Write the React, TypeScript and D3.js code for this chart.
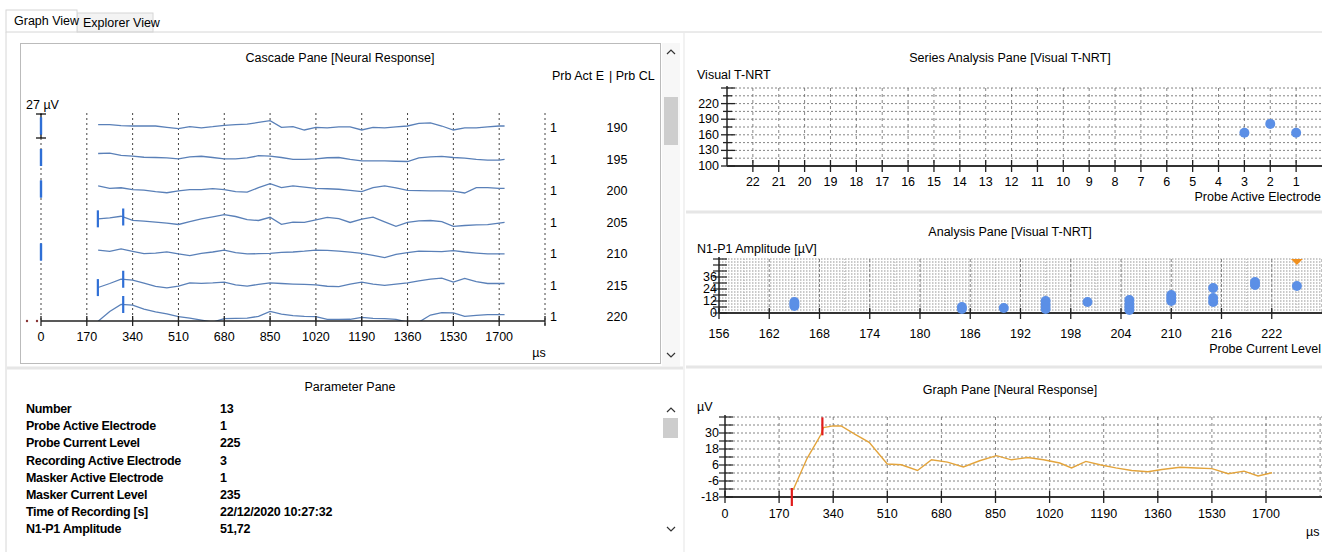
import React from "react";
import * as d3 from "d3";

const W = 1322;
const H = 552;
const FONT = "'Liberation Sans', Arial, sans-serif";

// ---- cascade pane data ----
const CASCADE_CL = [190, 195, 200, 205, 210, 215, 220];
const CASCADE_ELECTRODE = [1, 1, 1, 1, 1, 1, 1];
const CASCADE_TICKS = [0, 170, 340, 510, 680, 850, 1020, 1190, 1360, 1530, 1700];
const CASCADE_TIMES = [212, 255, 297, 340, 382, 425, 467, 510, 552, 595, 637, 680, 722, 765, 807, 850, 892, 935, 977, 1020, 1062, 1105, 1147, 1190, 1232, 1275, 1317, 1360, 1402, 1445, 1487, 1530, 1572, 1615, 1657, 1700, 1720];
const TRACE_190 = [1.5, 1.6, 0.5, 0, 0, 0, -1.5, -3, -0.7, -2, -0.8, 0.8, 1.5, 2.2, 4, 6, -1.5, -0.7, -4.5, -1.5, -2, -1, -1, -4.5, -1.5, -2.2, -1, 0, 3, 3.5, 0, -4.5, -2.2, -2.2, -1, 0, 0];
const TRACE_195 = [4.5, 5, 2.5, 1.5, 0.3, 0, -0.5, -1.5, 0.7, 1.4, 0, -1.5, -1.5, -0.5, 2, 1.5, 0, -2, -2, -1.5, -0.3, 0, -2.2, -3.7, -3.7, -3.9, -4.2, -4.5, -0.5, 0.8, 1.3, 0, -0.6, -2.2, -3, -3, -2.2];
const TRACE_200 = [3.4, 0.7, 1.4, -0.6, -1.3, -3, -4.2, -2.2, -0.7, -0.7, 0.4, -0.7, -3, -3.5, 1.5, 6, 1.5, 3.5, 2.2, 0.7, 0.3, -0.3, -1.5, -3, 1.5, 3.5, 1.2, -1.5, -1.9, -2.2, -2.2, -2.4, -4.5, 1.5, 1.5, 0.7, 0.7];
const TRACE_205 = [1.9, 3, 4.8, 0.2, -0.8, -1.8, -3, -4.5, -1.2, 1.8, 4.2, 6.7, 4.5, 1, 0, 3.6, -4.4, -1.8, -2, 0.8, 3.5, 2, -2.2, 1.5, 3.7, -1.5, -6.6, -2.2, -0.5, 0, -1.2, -6.6, -5.6, -5, -4.6, -3, -2.2];
const TRACE_210 = [2.2, 0.7, 3.4, 0.8, -1.8, -1.3, 0.2, -2.2, -4, -1.6, 0, 2.2, -0.6, -2.2, -1.9, -1.5, -0.5, 0, 0.9, 2.2, 1.9, 1, -0.2, -1.5, -3.7, -6.4, -2.7, -0.7, 1, 0.8, 0.4, 1.5, 0, -1.2, -2.1, -2.2, -2.2];
const TRACE_215 = [-4.5, 0, 5, 3.8, 0.5, -3.2, -5, -3, 0.7, 0.1, 0.6, 1.5, -1.5, -3, -1, 0.7, 0, -0.6, -1, -1.5, -3.1, -3.6, -0.8, 1.5, -0.7, -2.1, -0.6, 0.8, 3, 5, 6, 1.5, 5.8, 2, 0, 0, 0];
const TRACE_220 = [-7, 4, 12, 11, 6.5, 3.5, 1.3, -1.9, -3.4, -5.8, -8, -4.1, -3.8, -3.6, -1.5, 4, 1.1, -0.7, -1.5, -1.9, -4.9, -4.9, -4.8, -2.6, -3.8, -4.1, -5, -8, -8, 0, 2.6, 2.4, -1.6, -0.5, 0.4, 0.4, 0.4];
const CASCADE_TRACES = [TRACE_190, TRACE_195, TRACE_200, TRACE_205, TRACE_210, TRACE_215, TRACE_220];
const CASCADE_N1 = [0, 0, 0, 211, 0, 211, null];
const CASCADE_P1 = [0, 0, 0, 305, 0, 305, 305];
const SCALE_BAR_UV = 27;

// ---- series analysis pane ----
const ELECTRODES = [22, 21, 20, 19, 18, 17, 16, 15, 14, 13, 12, 11, 10, 9, 8, 7, 6, 5, 4, 3, 2, 1];
const SERIES_ELECTRODE = [3, 2, 1];
const SERIES_TNRT = [164, 181, 164];
const SERIES_Y_TICKS = [100, 130, 160, 190, 220];

// ---- analysis pane ----
const ANALYSIS_X_TICKS = [156, 162, 168, 174, 180, 186, 192, 198, 204, 210, 216, 222];
const ANALYSIS_Y_TICKS = [0, 12, 24, 36];
const ANALYSIS_CL = [165, 165, 165, 185, 185, 190, 195, 195, 195, 200, 205, 205, 205, 205, 210, 210, 210, 215, 215, 215, 220, 220, 225];
const ANALYSIS_AMP = [7, 9, 11, 4, 6, 5, 4, 8, 12, 11, 3, 6, 9, 13, 12, 15, 18, 11, 15, 25, 28, 31, 27];
const ANALYSIS_OVER = [225];

// ---- graph pane ----
const GRAPH_TICKS = [0, 170, 340, 510, 680, 850, 1020, 1190, 1360, 1530, 1700];
const GRAPH_Y_TICKS = [30, 18, 6, -6, -18];
const GRAPH_TIMES = [214, 258, 302, 309, 340, 365, 409, 453, 510, 554, 605, 649, 699, 749, 800, 853, 900, 951, 1001, 1052, 1089, 1134, 1178, 1228, 1278, 1329, 1373, 1430, 1480, 1530, 1581, 1631, 1675, 1719];
const GRAPH_UV = [-12.7, 11, 29, 34, 35.3, 35.3, 29, 23, 6.7, 6.2, 1.9, 9.9, 8.2, 4.5, 9.2, 13, 9.9, 11.6, 9.9, 7.5, 3.8, 8.7, 6.2, 3.8, 1.9, 0.9, 2.6, 4.3, 3.8, 3.3, -0.5, 1.4, -2.2, 0.2];
const GRAPH_MARK_T = [210, 306];
const GRAPH_MARK_V = [-18, 35];

// ---- parameter pane ----
const PARAM_NAMES = ["Number", "Probe Active Electrode", "Probe Current Level", "Recording Active Electrode", "Masker Active Electrode", "Masker Current Level", "Time of Recording [s]", "N1-P1 Amplitude"];
const PARAM_VALUES = ["13", "1", "225", "3", "1", "235", "22/12/2020 10:27:32", "51,72"];

const GRID = "#666";
const TRACE = "#5a80b8";
const MARK = "#2f6fd6";
const DOT = "#5b8fe6";

const Chevron = ({ x, y, up }: { x: number; y: number; up: boolean }) => (
  <polyline
    points={up ? `${x - 4},${y + 2} ${x},${y - 2} ${x + 4},${y + 2}` : `${x - 4},${y - 2} ${x},${y + 2} ${x + 4},${y - 2}`}
    fill="none" stroke="#333" strokeWidth={1.2} />
);

export default function App() {
  // cascade scales
  const cx = d3.scaleLinear().domain([0, 1870]).range([41, 545]);
  const cBase = d3.scalePoint<number>().domain(CASCADE_CL).range([126, 315]);
  const uv = d3.scaleLinear().domain([0, SCALE_BAR_UV]).range([0, 24]);
  const cascadeAt = (vals: number[], t: number) =>
    t === 0 ? 0 : d3.scaleLinear().domain(CASCADE_TIMES).range(vals)(t);

  // series
  const sx = d3.scaleLinear().domain([23, 0]).range([727, 1322]);
  const sy = d3.scaleLinear().domain([100, 250]).range([166, 88]);

  // analysis
  const ax = d3.scaleLinear().domain([156, 228]).range([719, 1322]);
  const ay = d3.scaleLinear().domain([0, 54]).range([313, 259]);

  // graph
  const gx = d3.scaleLinear().domain([0, 1700]).range([725, 1266]);
  const gy = d3.scaleLinear().domain([-18, 42]).range([497, 417]);
  const graphLine = d3.line<number>().x((_, i) => gx(GRAPH_TIMES[i])).y(v => gy(v));

  const txt = { fontFamily: FONT, fontSize: 12.5, fill: "#000" } as const;

  return (
    <svg width={W} height={H} style={{ position: "absolute", left: 0, top: 0, background: "#fff" }}>
      <defs>
        <clipPath id="cascadeClip">
          <rect x={20} y={90} width={640} height={231} />
        </clipPath>
      </defs>

      {/* tabs & frame */}
      <rect x={77} y={13} width={76} height={19} fill="#f3f3f3" stroke="#d6d6d6" />
      <rect x={6} y={10} width={71} height={22} fill="#fff" stroke="#d6d6d6" />
      <line x1={6} y1={32} x2={6} y2={H} stroke="#d6d6d6" />
      <line x1={77} y1={32} x2={W} y2={32} stroke="#d6d6d6" />
      <text x={14} y={25} style={txt} fontSize={11}>Graph View</text>
      <text x={83} y={27} style={txt} fontSize={11}>Explorer View</text>

      {/* pane separators */}
      <line x1={7} y1={368} x2={684} y2={368} stroke="#e6e6e6" strokeWidth={3} />
      <line x1={684} y1={33} x2={684} y2={H} stroke="#f2f2f2" strokeWidth={2} />
      <line x1={686} y1={212} x2={W} y2={212} stroke="#e6e6e6" strokeWidth={3} />
      <line x1={686} y1={367} x2={W} y2={367} stroke="#e6e6e6" strokeWidth={3} />

      {/* ===== cascade pane ===== */}
      <rect x={20.5} y={43.5} width={640} height={320} fill="none" stroke="#777" strokeDasharray="1,1" />
      <rect x={662} y={43} width={18} height={323} fill="#f7f7f7" />
      <rect x={664} y={97} width={14} height={48} fill="#cdcdcd" />
      <Chevron x={671} y={52} up={true} />
      <Chevron x={671} y={355} up={false} />
      <text x={340} y={62} textAnchor="middle" style={txt}>Cascade Pane [Neural Response]</text>
      <text x={552} y={80} style={txt}>Prb Act E</text>
      <text x={609} y={80} style={txt}>| Prb CL</text>

      {/* vertical dotted gridlines */}
      {[...CASCADE_TICKS, 1870].map(t => (
        <line key={t} x1={cx(t)} x2={cx(t)} y1={113} y2={t === 1870 ? 325 : 321}
          stroke="#444" strokeDasharray="2,3" />
      ))}

      {/* scale bar */}
      <text x={26} y={109} style={txt}>27 µV</text>
      <line x1={cx(0)} x2={cx(0)} y1={114} y2={114 + uv(SCALE_BAR_UV)} stroke="#000" strokeWidth={1.2} />
      <line x1={cx(0) - 5} x2={cx(0) + 5} y1={114} y2={114} stroke="#000" strokeWidth={1.2} />
      <line x1={cx(0) - 5} x2={cx(0) + 5} y1={114 + uv(SCALE_BAR_UV)} y2={114 + uv(SCALE_BAR_UV)} stroke="#000" strokeWidth={1.2} />

      {/* traces */}
      <g clipPath="url(#cascadeClip)">
        {CASCADE_TRACES.map((vals, i) => {
          const base = cBase(CASCADE_CL[i]) as number;
          const line = d3.line<number>().x((_, j) => cx(CASCADE_TIMES[j])).y(v => base - uv(v));
          return <path key={i} d={line(vals) || ""} fill="none" stroke={TRACE} strokeWidth={1.3} />;
        })}
      </g>

      {/* markers */}
      {CASCADE_TRACES.map((vals, i) => {
        const base = cBase(CASCADE_CL[i]) as number;
        const marks = [CASCADE_N1[i], CASCADE_P1[i]].filter(m => m !== null) as number[];
        return marks.map((t, k) => {
          const y = base - uv(cascadeAt(vals, t));
          return <line key={`${i}-${k}`} x1={cx(t)} x2={cx(t)} y1={y - 8.5} y2={y + 8.5}
            stroke={MARK} strokeWidth={2.2} />;
        });
      })}

      {/* cascade axis */}
      <line x1={cx(0)} x2={cx(1870)} y1={321} y2={321} stroke="#222" strokeWidth={1.5} />
      <circle cx={27} cy={321} r={1.2} fill="#833" />
      <circle cx={37} cy={321} r={1.2} fill="#833" />
      {[...CASCADE_TICKS, 1870].map(t => (
        <line key={t} x1={cx(t)} x2={cx(t)} y1={316} y2={326} stroke="#222" strokeWidth={1.3} />
      ))}
      {CASCADE_TICKS.map(t => (
        <text key={t} x={cx(t)} y={341} textAnchor="middle" style={txt}>{t}</text>
      ))}
      <text x={539} y={357} textAnchor="middle" style={txt} fontSize={11}>µs</text>

      {/* right labels */}
      {CASCADE_CL.map((cl, i) => {
        const y = (cBase(cl) as number) + 6;
        return (
          <g key={cl}>
            <text x={550} y={y} style={txt}>{CASCADE_ELECTRODE[i]}</text>
            <text x={617} y={y} textAnchor="middle" style={txt}>{cl}</text>
          </g>
        );
      })}

      {/* ===== series analysis pane ===== */}
      <text x={1010} y={62} textAnchor="middle" style={txt}>Series Analysis Pane [Visual T-NRT]</text>
      <text x={697} y={79} style={txt}>Visual T-NRT</text>
      {d3.range(115, 251, 15).map(v => (
        <line key={v} x1={727} x2={W} y1={sy(v)} y2={sy(v)} stroke={GRID} strokeDasharray="2,2" strokeWidth={0.8} />
      ))}
      {ELECTRODES.map(e => (
        <line key={e} x1={sx(e)} x2={sx(e)} y1={88} y2={166} stroke={GRID} strokeDasharray="3,3" strokeWidth={0.8} />
      ))}
      <line x1={727} x2={727} y1={86} y2={166} stroke="#222" strokeWidth={1.5} />
      <line x1={727} x2={W} y1={166} y2={166} stroke="#333" strokeWidth={2} />
      {d3.range(100, 251, 15).map(v => (
        <line key={v} x1={v % 30 === 10 ? 721 : 723} x2={v % 30 === 10 ? 735 : 732} y1={sy(v)} y2={sy(v)} stroke="#222" strokeWidth={1.3} />
      ))}
      {SERIES_Y_TICKS.map(v => (
        <text key={v} x={719} y={sy(v) + 4} textAnchor="end" style={txt}>{v}</text>
      ))}
      {ELECTRODES.map(e => (
        <g key={e}>
          <line x1={sx(e)} x2={sx(e)} y1={160} y2={172} stroke="#222" strokeWidth={1.3} />
          <text x={sx(e)} y={186} textAnchor="middle" style={txt}>{e}</text>
        </g>
      ))}
      <text x={1321} y={201} textAnchor="end" style={txt}>Probe Active Electrode</text>
      {SERIES_ELECTRODE.map((e, i) => (
        <circle key={e} cx={sx(e)} cy={sy(SERIES_TNRT[i])} r={5} fill={DOT} />
      ))}

      {/* ===== analysis pane ===== */}
      <text x={1010} y={236} textAnchor="middle" style={txt}>Analysis Pane [Visual T-NRT]</text>
      <text x={697} y={253} style={txt}>N1-P1 Amplitude [µV]</text>
      {d3.range(3, 55, 3).map(v => (
        <line key={v} x1={719} x2={W} y1={ay(v)} y2={ay(v)} stroke={GRID} strokeDasharray="1.5,1.5" strokeWidth={0.7} />
      ))}
      {d3.range(159, 229, 6).map(v => (
        <line key={v} x1={ax(v)} x2={ax(v)} y1={259} y2={313} stroke="#aaa" strokeDasharray="1,2" strokeWidth={0.8} />
      ))}
      {d3.range(162, 229, 6).map(v => (
        <line key={v} x1={ax(v)} x2={ax(v)} y1={259} y2={313} stroke={GRID} strokeDasharray="3,2" strokeWidth={0.8} />
      ))}
      <line x1={719} x2={719} y1={257} y2={313} stroke="#222" strokeWidth={1.5} />
      <line x1={719} x2={W} y1={313} y2={313} stroke="#333" strokeWidth={2} />
      {d3.range(0, 55, 6).map(v => (
        <line key={v} x1={713} x2={727} y1={ay(v)} y2={ay(v)} stroke="#222" strokeWidth={1.2} />
      ))}
      {ANALYSIS_Y_TICKS.map(v => (
        <text key={v} x={717} y={ay(v) + 4} textAnchor="end" style={txt}>{v}</text>
      ))}
      {ANALYSIS_X_TICKS.map(v => (
        <g key={v}>
          <line x1={ax(v)} x2={ax(v)} y1={308} y2={319} stroke="#222" strokeWidth={1.3} />
          <text x={ax(v)} y={338} textAnchor="middle" style={txt}>{v}</text>
        </g>
      ))}
      <text x={1321} y={353} textAnchor="end" style={txt}>Probe Current Level</text>
      {ANALYSIS_CL.map((cl, i) => (
        <circle key={i} cx={ax(cl)} cy={ay(ANALYSIS_AMP[i])} r={5} fill={DOT} />
      ))}
      {ANALYSIS_OVER.map(cl => (
        <path key={cl} d={`M${ax(cl) - 6},${ay(54)} L${ax(cl) + 6},${ay(54)} L${ax(cl)},${ay(54) + 6} Z`} fill="#f0901e" />
      ))}

      {/* ===== graph pane ===== */}
      <text x={1010} y={394} textAnchor="middle" style={txt}>Graph Pane [Neural Response]</text>
      <text x={697} y={411} style={txt}>µV</text>
      {d3.range(-12, 43, 6).map(v => (
        <line key={v} x1={725} x2={W} y1={gy(v)} y2={gy(v)} stroke={GRID} strokeDasharray="2,2" strokeWidth={0.8} />
      ))}
      {[...GRAPH_TICKS.slice(1), 1870].map(t => (
        <line key={t} x1={gx(t)} x2={gx(t)} y1={417} y2={497} stroke={GRID} strokeDasharray="3,3" strokeWidth={0.8} />
      ))}
      <line x1={725} x2={725} y1={415} y2={497} stroke="#222" strokeWidth={1.5} />
      <line x1={725} x2={W} y1={497} y2={497} stroke="#333" strokeWidth={2} />
      {d3.range(-18, 43, 6).map(v => (
        <line key={v} x1={719} x2={733} y1={gy(v)} y2={gy(v)} stroke="#222" strokeWidth={1.2} />
      ))}
      {GRAPH_Y_TICKS.map(v => (
        <text key={v} x={719} y={gy(v) + 4} textAnchor="end" style={txt}>{v}</text>
      ))}
      {GRAPH_TICKS.map(t => (
        <g key={t}>
          <line x1={gx(t)} x2={gx(t)} y1={491} y2={503} stroke="#222" strokeWidth={1.3} />
          <text x={gx(t)} y={518} textAnchor="middle" style={txt}>{t}</text>
        </g>
      ))}
      <text x={1306} y={536} style={txt} fontSize={11}>µs</text>
      <path d={graphLine(GRAPH_UV) || ""} fill="none" stroke="#e3a43c" strokeWidth={1.4} />
      {GRAPH_MARK_T.map((t, i) => (
        <line key={t} x1={gx(t)} x2={gx(t)} y1={gy(GRAPH_MARK_V[i]) - 9} y2={gy(GRAPH_MARK_V[i]) + 9}
          stroke="#e01b1b" strokeWidth={2.2} />
      ))}

      {/* ===== parameter pane ===== */}
      <text x={350} y={391} textAnchor="middle" style={txt}>Parameter Pane</text>
      {PARAM_NAMES.map((name, i) => (
        <g key={name}>
          <text x={26} y={413 + i * 17.2} style={txt} fontSize={12} fontWeight="bold" letterSpacing={-0.3}>{name}</text>
          <text x={220} y={413 + i * 17.2} style={txt} fontSize={12} fontWeight="bold" letterSpacing={-0.2}>{PARAM_VALUES[i]}</text>
        </g>
      ))}
      <Chevron x={671} y={410} up={true} />
      <rect x={663} y={418} width={15} height={20} fill="#cdcdcd" />
      <Chevron x={671} y={529} up={false} />
    </svg>
  );
}
